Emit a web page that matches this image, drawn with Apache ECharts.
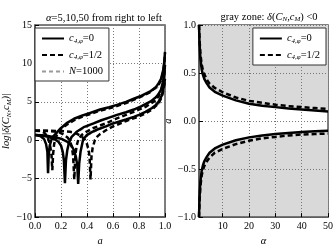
<!DOCTYPE html>
<html><head><meta charset="utf-8">
<script src="https://cdn.jsdelivr.net/npm/echarts@6/dist/echarts.min.js"></script>
<style>html,body{margin:0;padding:0;background:#fff}#c{width:336px;height:252px}</style>
</head><body><div id="c"></div>
<script>
// ---------- left panel: log|delta| vs a ----------
const leftXTicks = [0, 0.2, 0.4, 0.6, 0.8, 1.0];
const leftYTicks = [-10, -5, 0, 5, 10, 15];
// c=0, alpha=50
const xSolid50 = [0, 0.04, 0.07, 0.085, 0.095, 0.1, 0.105, 0.113, 0.125, 0.14, 0.167, 0.2, 0.25, 0.3, 0.36, 0.43, 0.5, 0.57, 0.63, 0.7, 0.76, 0.82, 0.89, 0.93, 0.95, 0.97, 0.987, 0.995, 1.0];
const ySolid50 = [0.7, 0.55, 0.15, -0.5, -1.5, -4.3, -2.0, -0.7, 0.0, 0.5, 1.0, 1.6, 2.3, 2.8, 3.2, 3.6, 4.0, 4.3, 4.6, 5.0, 5.4, 5.8, 6.4, 6.9, 7.4, 8.0, 9.2, 10.3, 11.5];
// c=0, alpha=10
const xSolid10 = [0, 0.05, 0.1, 0.15, 0.18, 0.2, 0.213, 0.222, 0.23, 0.238, 0.248, 0.26, 0.28, 0.32, 0.38, 0.45, 0.51, 0.57, 0.63, 0.7, 0.76, 0.82, 0.89, 0.93, 0.95, 0.97, 0.987, 0.995, 1.0];
const ySolid10 = [0.7, 0.62, 0.45, 0.15, -0.2, -0.7, -1.5, -2.6, -5.6, -2.6, -1.3, -0.4, 0.4, 1.1, 1.75, 2.2, 2.6, 2.95, 3.3, 3.65, 4.0, 4.45, 5.06, 5.6, 6.0, 6.6, 7.8, 8.7, 9.8];
// c=0, alpha=5
const xSolid5 = [0, 0.05, 0.1, 0.15, 0.2, 0.25, 0.28, 0.3, 0.315, 0.325, 0.332, 0.34, 0.35, 0.37, 0.4, 0.44, 0.48, 0.545, 0.6, 0.65, 0.7, 0.76, 0.8, 0.85, 0.9, 0.93, 0.95, 0.975, 0.99, 1.0];
const ySolid5 = [0.7, 0.66, 0.55, 0.4, 0.2, -0.2, -0.7, -1.3, -2.2, -3.3, -5.7, -3.0, -1.5, 0.1, 0.7, 1.1, 1.4, 1.8, 2.2, 2.45, 2.7, 3.05, 3.3, 3.7, 4.2, 4.6, 5.0, 5.8, 7.0, 8.0];
// c=1/2, alpha=50
const xDash50 = [0, 0.04, 0.07, 0.09, 0.105, 0.118, 0.127, 0.133, 0.139, 0.147, 0.16, 0.18, 0.2, 0.25, 0.3, 0.36, 0.43, 0.5, 0.6, 0.7, 0.8, 0.89, 0.95, 0.97, 0.987, 0.995, 1.0];
const yDash50 = [1.25, 1.2, 1.0, 0.6, 0.0, -0.9, -2.0, -3.9, -1.8, -0.5, 0.4, 1.1, 1.5, 2.1, 2.6, 3.05, 3.45, 3.85, 4.3, 4.85, 5.55, 6.3, 7.2, 7.8, 9.0, 10.1, 11.3];
// c=1/2, alpha=10
const xDash10 = [0, 0.05, 0.1, 0.15, 0.19, 0.22, 0.25, 0.27, 0.283, 0.293, 0.302, 0.31, 0.32, 0.335, 0.36, 0.394, 0.45, 0.545, 0.63, 0.7, 0.76, 0.85, 0.92, 0.95, 0.97, 0.987, 1.0];
const yDash10 = [1.25, 1.25, 1.22, 1.15, 1.0, 0.75, 0.35, -0.1, -0.9, -2.0, -5.1, -2.0, -0.7, 0.2, 0.7, 1.1, 1.6, 2.2, 2.85, 3.3, 3.7, 4.35, 5.1, 5.7, 6.4, 7.5, 9.5];
// c=1/2, alpha=5
const xDash5 = [0, 0.1, 0.2, 0.27, 0.31, 0.35, 0.38, 0.4, 0.413, 0.42, 0.427, 0.434, 0.443, 0.46, 0.48, 0.5, 0.545, 0.6, 0.7, 0.8, 0.85, 0.9, 0.95, 0.975, 0.99, 1.0];
const yDash5 = [1.25, 1.25, 1.2, 1.1, 0.95, 0.6, 0.15, -0.5, -1.3, -2.3, -5.1, -2.2, -1.0, 0.0, 0.5, 0.8, 1.3, 1.8, 2.5, 3.1, 3.5, 4.0, 4.8, 5.6, 6.7, 7.8];
// N=1000
const xGray50 = [0.15, 0.2, 0.3, 0.43, 0.57, 0.7, 0.82, 0.9, 0.95, 0.98];
const yGray50 = [0.6, 1.5, 2.7, 3.5, 4.2, 4.9, 5.7, 6.4, 6.9, 7.1];
const xGray10 = [0.3, 0.38, 0.5, 0.63, 0.76, 0.89, 0.95, 0.98];
const yGray10 = [0.7, 1.6, 2.5, 3.2, 3.9, 4.9, 5.6, 6.0];
const xGray5 = [0.4, 0.48, 0.6, 0.7, 0.8, 0.9, 0.95, 0.98];
const yGray5 = [0.6, 1.3, 2.1, 2.6, 3.2, 4.1, 4.7, 5.1];

// ---------- right panel: boundary a(alpha) ----------
const alphaR = [1, 1.2, 1.5, 2, 2.5, 3, 4, 5, 7, 10, 15, 20, 25, 30, 35, 40, 45, 50];
const upperSolid = [1.0, 0.82, 0.66, 0.54, 0.48, 0.44, 0.39, 0.35, 0.305, 0.265, 0.215, 0.18, 0.16, 0.145, 0.13, 0.12, 0.11, 0.10];
const upperDash = [1.0, 0.86, 0.71, 0.59, 0.53, 0.49, 0.43, 0.39, 0.345, 0.30, 0.245, 0.21, 0.19, 0.17, 0.155, 0.145, 0.135, 0.125];
const lowerSolid = [-1.0, -0.8, -0.64, -0.52, -0.46, -0.42, -0.37, -0.33, -0.285, -0.245, -0.2, -0.17, -0.15, -0.135, -0.125, -0.115, -0.105, -0.10];
const lowerDash = [-1.0, -0.84, -0.69, -0.57, -0.51, -0.47, -0.42, -0.38, -0.33, -0.29, -0.24, -0.205, -0.18, -0.165, -0.15, -0.14, -0.135, -0.13];
const rightXTicks = [10, 20, 30, 40, 50];
const rightYTicks = [-1.0, -0.5, 0.0, 0.5, 1.0];

const FONT = 'Liberation Serif';
const zip = (xs, ys) => xs.map((x, i) => [x, ys[i]]);
const fmtNum = (d) => (v) => (v < 0 ? '\u2212' : '') + Math.abs(v).toFixed(d);
const subRich = {
  i: { fontFamily: FONT, fontStyle: 'italic', fontSize: 10.5, color: '#000' },
  n: { fontFamily: FONT, fontSize: 10.5, color: '#000' },
  s: { fontFamily: FONT, fontStyle: 'italic', fontSize: 7, color: '#000', padding: [5, 0, 0, 0] }
};
const legendText = { c0: '{i|c}{s|4,φ}{n|=0}', c12: '{i|c}{s|4,φ}{n|=1/2}', n1000: '{i|N}{n|=1000}' };

const frame = '#555';
const baseAxis = (gi, extra) => Object.assign({
  gridIndex: gi, type: 'value', z: 3,
  axisLine: { show: true, onZero: false, lineStyle: { color: frame, width: 1.5 } },
  axisTick: { show: true, inside: true, length: 4, lineStyle: { color: '#000' } },
  splitLine: { show: true, lineStyle: { color: '#777', type: [1, 2], width: 1 } },
  axisLabel: { fontFamily: FONT, fontSize: 10, color: '#000', margin: 4 },
  nameTextStyle: { fontFamily: FONT, fontSize: 10.5, fontStyle: 'italic', color: '#000', rich: subRich }
}, extra);

const blackSolid = { color: '#000', width: 2.5, type: 'solid' };
const blackDash = { color: '#000', width: 2.5, type: [5, 3] };
const grayDash = { color: '#9a9a9a', width: 1.3, type: [4, 3] };
const line = (name, xi, yi, data, ls, z) => ({
  name, type: 'line', xAxisIndex: xi, yAxisIndex: yi, data, symbol: 'none', showSymbol: false,
  lineStyle: ls, itemStyle: { color: ls.color }, z: z, silent: true, animation: false
});

const series = [
  line('n1000', 0, 0, zip(xGray50, yGray50), grayDash, 4),
  line('n1000', 0, 0, zip(xGray10, yGray10), grayDash, 4),
  line('n1000', 0, 0, zip(xGray5, yGray5), grayDash, 4),
  line('c12', 0, 0, zip(xDash50, yDash50), blackDash, 5),
  line('c12', 0, 0, zip(xDash10, yDash10), blackDash, 5),
  line('c12', 0, 0, zip(xDash5, yDash5), blackDash, 5),
  line('c0', 0, 0, zip(xSolid50, ySolid50), blackSolid, 6),
  line('c0', 0, 0, zip(xSolid10, ySolid10), blackSolid, 6),
  line('c0', 0, 0, zip(xSolid5, ySolid5), blackSolid, 6),
  // gray zones (areas only)
  { name: 'zoneU', type: 'line', xAxisIndex: 1, yAxisIndex: 1, data: zip(alphaR, upperSolid), symbol: 'none',
    lineStyle: { width: 0 }, areaStyle: { color: '#d9d9d9', opacity: 1, origin: 'end' }, z: 1, silent: true, animation: false },
  { name: 'zoneL', type: 'line', xAxisIndex: 1, yAxisIndex: 1, data: zip(alphaR, lowerSolid), symbol: 'none',
    lineStyle: { width: 0 }, areaStyle: { color: '#d9d9d9', opacity: 1, origin: 'start' }, z: 1, silent: true, animation: false },
  line('c12', 1, 1, zip(alphaR, upperDash), blackDash, 5),
  line('c12', 1, 1, zip(alphaR, lowerDash), blackDash, 5),
  line('c0', 1, 1, zip(alphaR, upperSolid), blackSolid, 6),
  line('c0', 1, 1, zip(alphaR, lowerSolid), blackSolid, 6)
];

const legendBase = {
  orient: 'vertical', itemWidth: 22, itemHeight: 10, itemGap: 5,
  padding: [5, 6, 4, 6], borderColor: '#333', borderWidth: 1, backgroundColor: '#fff',
  selectedMode: false, z: 10,
  itemStyle: { color: 'transparent', borderWidth: 0, opacity: 0 },
  formatter: (n) => legendText[n],
  textStyle: { fontFamily: FONT, fontSize: 10.5, color: '#000', rich: subRich }
};

const option = {
  animation: false,
  backgroundColor: '#fff',
  title: [
    { text: '{i|α}{n|=5,10,50 from right to left}', left: 99, top: 8, textAlign: 'center',
      textStyle: { fontFamily: FONT, fontSize: 10.5, fontWeight: 'normal', color: '#000', rich: subRich } },
    { text: '{n|gray zone: }{i|δ}{n|(}{i|C}{s|N}{n|,}{i|c}{s|M}{n|) <0}', left: 264, top: 6, textAlign: 'center',
      textStyle: { fontFamily: FONT, fontSize: 10.5, fontWeight: 'normal', color: '#000', rich: subRich } }
  ],
  legend: [
    Object.assign({}, legendBase, { data: ['c0', 'c12', 'n1000'], left: 35, top: 28 }),
    Object.assign({}, legendBase, { data: ['c0', 'c12'], right: 10, top: 28 })
  ],
  grid: [
    { left: 33, top: 25, width: 132, height: 202, show: true, borderColor: frame, borderWidth: 1.5, backgroundColor: '#fff' },
    { left: 199, top: 25, width: 130, height: 201, show: true, borderColor: frame, borderWidth: 1.5, backgroundColor: 'transparent' }
  ],
  xAxis: [
    baseAxis(0, { min: 0, max: 1, interval: 0.2, name: 'a', nameLocation: 'middle', nameGap: 17,
      axisLabel: { fontFamily: FONT, fontSize: 10, color: '#000', margin: 4, formatter: fmtNum(1) } }),
    baseAxis(1, { min: 1, max: 50, name: 'α', nameLocation: 'middle', nameGap: 17,
      axisTick: { show: true, inside: true, length: 4, customValues: rightXTicks, lineStyle: { color: '#000' } },
      axisLabel: { fontFamily: FONT, fontSize: 10, color: '#000', margin: 4, customValues: rightXTicks } })
  ],
  yAxis: [
    baseAxis(0, { min: -10, max: 15, interval: 5, name: '{n|log|}{i|δ}{n|(}{i|C}{s|N}{n|,}{i|c}{s|M}{n|)|}',
      nameLocation: 'middle', nameGap: 20,
      axisLabel: { fontFamily: FONT, fontSize: 10, color: '#000', margin: 3, formatter: fmtNum(0) } }),
    baseAxis(1, { min: -1, max: 1, interval: 0.5, name: 'a', nameLocation: 'middle', nameGap: 20,
      axisLabel: { fontFamily: FONT, fontSize: 10, color: '#000', margin: 3, formatter: fmtNum(1) } })
  ],
  series
};
const chart = echarts.init(document.getElementById('c'), null, { renderer: 'canvas' });
chart.setOption(option);
</script></body></html>
